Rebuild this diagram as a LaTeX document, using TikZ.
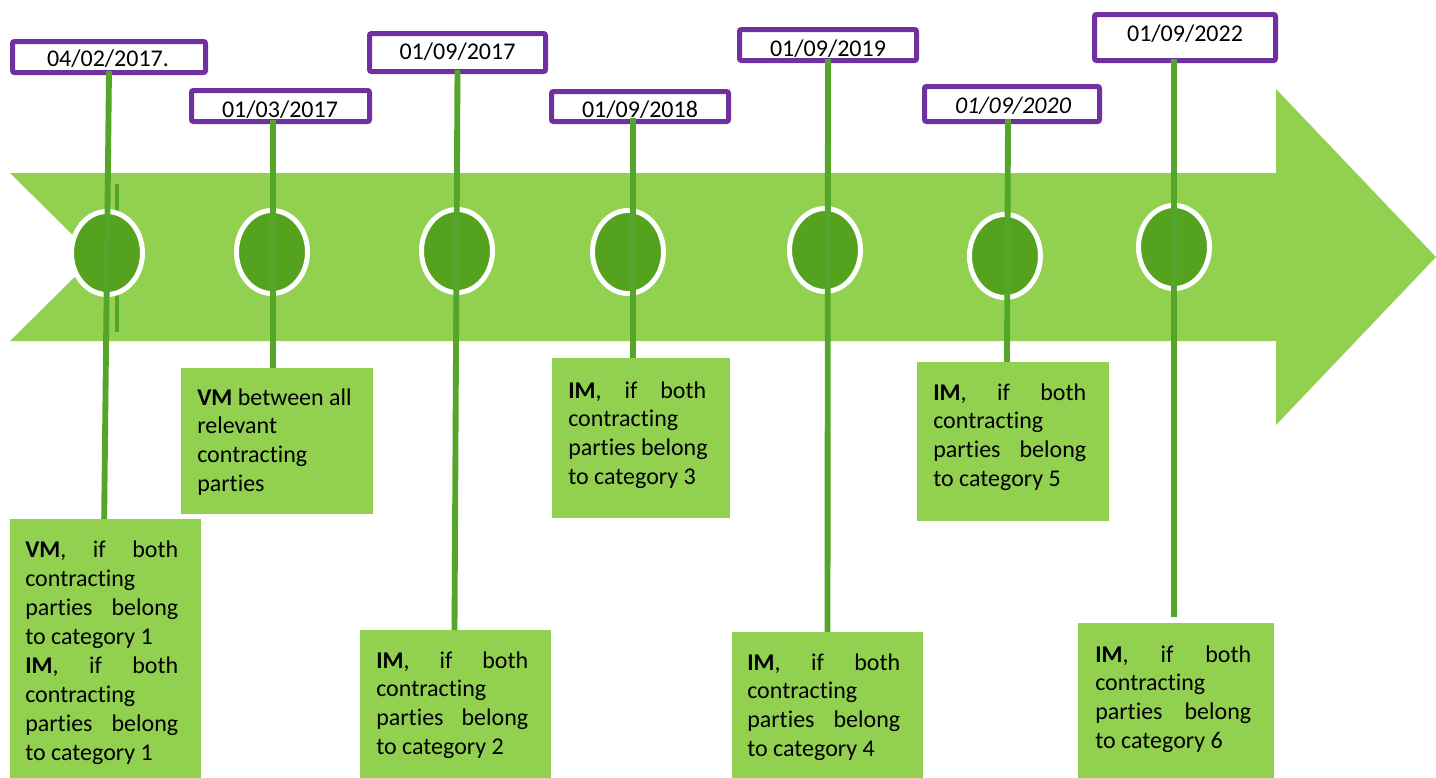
\documentclass[tikz,border=0pt]{standalone}
\usepackage{fontspec}
\setmainfont{Carlito}[RawFeature={-liga;-clig;-calt;-dlig}]
\usetikzlibrary{shapes.geometric,fit}
\definecolor{lgreen}{HTML}{92D050}
\definecolor{dgreen}{HTML}{54A21E}
\definecolor{lgline}{HTML}{53A62A}
\definecolor{purp}{HTML}{7030A0}
\newcommand\jl[2]{\makebox[#1][s]{#2}}
\begin{document}
\begin{tikzpicture}[x=0.75pt,y=-0.75pt,
  cbox/.style={fill=lgreen, inner sep=0pt, outer sep=0pt},
  dbox/.style={draw=purp, line width=3.75pt, rounded corners=1.5pt, fill=white, inner sep=0pt, outer sep=0pt},
  dot/.style={ellipse, fill=dgreen, draw=white, line width=3.75pt, minimum width=53.25pt, minimum height=62.25pt, inner sep=0pt, outer sep=0pt},
  conn/.style={draw=lgline, line width=4.4pt},
  ctext/.style={font=\fontsize{18}{21.7}\selectfont, align=left, inner sep=0pt, anchor=base west},
  dtext/.style={font=\fontsize{18}{21.7}\selectfont, inner sep=0pt, anchor=base}]
\useasboundingbox (0,0) rectangle (1436,778);
\fill[white] (0,0) rectangle (1436,778);
% big arrow
\fill[lgreen] (10,173) -- (1276,173) -- (1276,89) -- (1436,257) -- (1276,425) -- (1276,341) -- (10,341) -- (95,257) -- cycle;
% stray short line
\draw[lgline, line width=3pt] (117,184) -- (117,332);
% circles
\node[dot] (e1) at (107,253) {};
\node[dot] (e2) at (272,252) {};
\node[dot] (e3) at (457,251) {};
\node[dot] (e4) at (628,252) {};
\node[dot] (e5) at (825,250) {};
\node[dot] (e6) at (1005,256) {};
\node[dot] (e7) at (1174,247) {};
% content boxes
\node[cbox, fit={(10,519)(201,778)}] (c1) {};
\node[cbox, fit={(181,368)(373,514)}] (c2) {};
\node[cbox, fit={(360,630)(551,778)}] (c3) {};
\node[cbox, fit={(552,358)(730,518)}] (c4) {};
\node[cbox, fit={(732,632)(923,778)}] (c5) {};
\node[cbox, fit={(917,362)(1109,521)}] (c6) {};
\node[cbox, fit={(1078,623)(1274,778)}] (c7) {};
% date boxes
\node[dbox, fit={(12.5,41.5)(205.5,72.5)}] (d1) {};
\node[dbox, fit={(191.5,90.5)(369.5,121.5)}] (d2) {};
\node[dbox, fit={(369.5,33.5)(545.5,71.5)}] (d3) {};
\node[dbox, fit={(551.5,91.5)(728.5,121.5)}] (d4) {};
\node[dbox, fit={(739.5,29.5)(916.5,60.5)}] (d5) {};
\node[dbox, fit={(924.5,86.5)(1099.5,121.5)}] (d6) {};
\node[dbox, fit={(1094.5,14.5)(1275.5,60.5)}] (d7) {};
% date texts
\node[dtext] (t1) at (108,66) {04/02/2017.};
\node[dtext] (t2) at (280,117) {01/03/2017};
\node[dtext] (t3) at (457.5,59) {01/09/2017};
\node[dtext] (t4) at (640,117) {01/09/2018};
\node[dtext] (t5) at (828,56) {01/09/2019};
\node[dtext] (t6) at (1013,113) {\textit{01/09/2020}};
\node[dtext] (t7) at (1185,41) {01/09/2022};
% connectors
\draw[conn] ([yshift=1pt]d1.south) -- ([xshift=-1pt]c1.north);
\draw[conn] ([xshift=-5.6pt,yshift=1pt]d2.south) -- ([xshift=-3pt]c2.north);
\draw[conn] ([yshift=1pt]d3.south) -- ([xshift=-0.75pt]c3.north);
\draw[conn] ([xshift=-5.25pt,yshift=3pt]d4.south) -- ([xshift=-6pt]c4.north);
\draw[conn] ([yshift=1pt]d5.south) -- (c5.north);
\draw[conn] ([xshift=-3pt,yshift=2pt]d6.south) -- ([xshift=-4.5pt]c6.north);
\draw[conn] ([xshift=-8.25pt,yshift=1pt]d7.south) -- ([xshift=-1.5pt,yshift=4.5pt]c7.north);
% content texts (anchored at the baseline of the last line)
\node[ctext] (x1) at (25,760.5) {\jl{114.75pt}{\textbf{VM}, if both}\\contracting\\\jl{114.75pt}{parties belong}\\to category 1\\\jl{114.75pt}{\textbf{IM}, if both}\\contracting\\\jl{114.75pt}{parties belong}\\to category 1};
\node[ctext] (x2) at (197,491.8) {\textbf{VM} between all\\relevant\\contracting\\parties};
\node[ctext] (x3) at (376,754.8) {\jl{114pt}{\textbf{IM}, if both}\\contracting\\\jl{114pt}{parties belong}\\to category 2};
\node[ctext] (x4) at (568,484.8) {\jl{103.5pt}{\textbf{IM}, if both}\\contracting\\parties belong\\to category 3};
\node[ctext] (x5) at (747,756.8) {\jl{114.75pt}{\textbf{IM}, if both}\\contracting\\\jl{114.75pt}{parties belong}\\to category 4};
\node[ctext] (x6) at (933,486.8) {\jl{114.75pt}{\textbf{IM}, if both}\\contracting\\\jl{114.75pt}{parties belong}\\to category 5};
\node[ctext] (x7) at (1095,748.8) {\jl{117pt}{\textbf{IM}, if both}\\contracting\\\jl{117pt}{parties belong}\\to category 6};
\end{tikzpicture}
\end{document}
